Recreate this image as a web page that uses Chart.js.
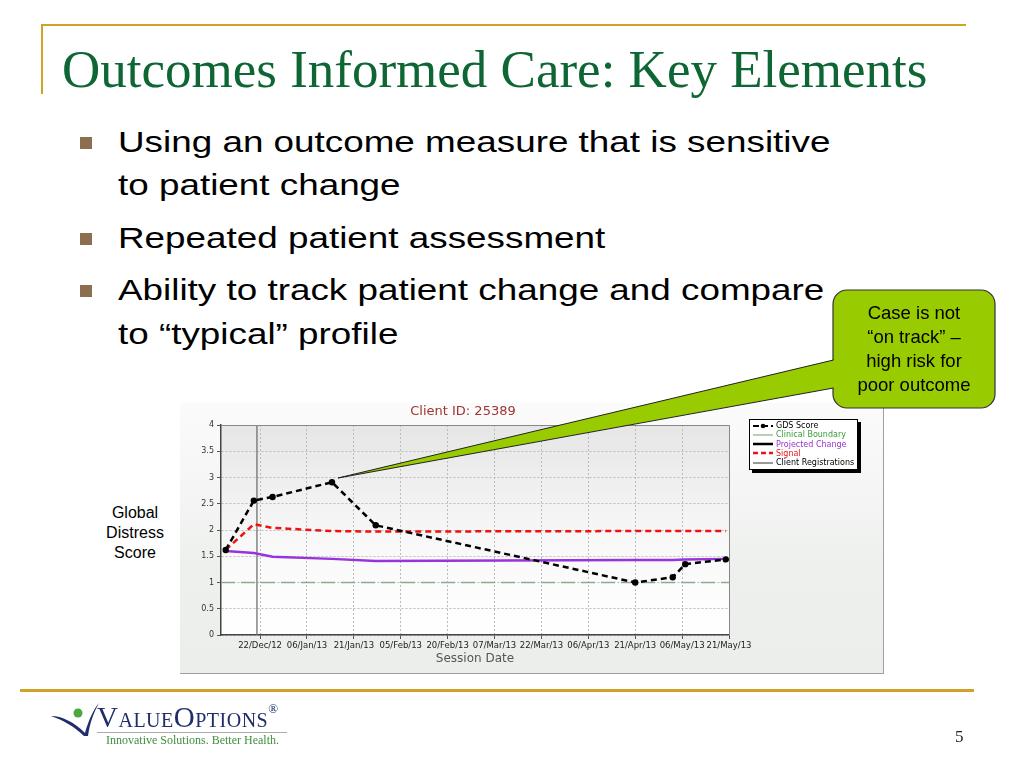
<!DOCTYPE html>
<html>
<head>
<meta charset="utf-8">
<script src="https://cdn.jsdelivr.net/npm/chart.js@4.4.1/dist/chart.umd.min.js"></script>
<style>
  body { margin: 0; background: #fff; }
  #slide { position: relative; width: 1024px; height: 768px; overflow: hidden; font-family: "Liberation Sans", Arial, sans-serif; }
  .abs { position: absolute; }
  .gold { background: #d1a22a; }
  #title { left: 62px; top: 43px; font-family: "Liberation Serif", serif; font-size: 53px; color: #0d6634; white-space: nowrap; line-height: 53px; }
  .bl { left: 118px; font-size: 29px; line-height: 29px; color: #000; white-space: nowrap; transform: scaleX(1.27); transform-origin: 0 0; }
  .sq { left: 80px; width: 12px; height: 12px; background: #8b6f4e; }
  #gds { left: 95px; top: 503px; width: 80px; text-align: center; font-size: 16px; line-height: 20px; }
  #chartBox { left: 180px; top: 403px; width: 703px; height: 270px; background: linear-gradient(#fbfbfb, #eef0ee 60%, #eceeec); border-right: 1px solid #a0a0a0; border-bottom: 1px solid #a0a0a0; }
  #ctitle { left: 180px; top: 403px; width: 566px; text-align: center; font-family: "DejaVu Sans", sans-serif; font-size: 13px; color: #a03434; }
  #legend { left: 749px; top: 419px; width: 107px; height: 48px; background: #fff; border: 1px solid #000; box-shadow: 3px 3px 0 #000; font-family: "DejaVu Sans", sans-serif; font-size: 8px; line-height: 9.3px; padding-top: 1px; }
  #legend div { white-space: nowrap; }
  #legend svg { vertical-align: middle; margin: 0 3px 0 3px; }
  #callText { left: 833px; top: 301px; width: 162px; text-align: center; font-size: 18.5px; line-height: 24px; color: #000; }
  #page { left: 955px; top: 727px; font-family: "Liberation Serif", serif; font-size: 17px; color: #222; }
  #logoName { left: 97px; top: 701px; font-family: "Liberation Serif", serif; font-size: 29px; font-variant: small-caps; color: #1f2e6a; letter-spacing: 0.5px; }
  #logoTag { left: 106px; top: 733px; font-family: "Liberation Serif", serif; font-size: 12px; color: #3f8f3f; }
</style>
</head>
<body>
<div id="slide">
  <div class="abs gold" style="left:42px;top:24px;width:924px;height:2px;"></div>
  <div class="abs gold" style="left:41px;top:24px;width:2px;height:70px;"></div>
  <div class="abs gold" style="left:20px;top:689px;width:954px;height:3px;"></div>

  <div id="title" class="abs">Outcomes Informed Care: Key Elements</div>

  <div class="abs sq" style="top:137px;"></div>
  <div class="abs bl" style="top:128px;">Using an outcome measure that is sensitive</div>
  <div class="abs bl" style="top:171px;">to patient change</div>
  <div class="abs sq" style="top:233px;"></div>
  <div class="abs bl" style="top:224px;">Repeated patient assessment</div>
  <div class="abs sq" style="top:285px;"></div>
  <div class="abs bl" style="top:276px;">Ability to track patient change and compare</div>
  <div class="abs bl" style="top:320px;">to “typical” profile</div>

  <div id="gds" class="abs">Global<br>Distress<br>Score</div>

  <div id="chartBox" class="abs">
    <canvas id="gdsChart" width="703" height="270"></canvas>
  </div>
  <div id="ctitle" class="abs">Client ID: 25389</div>

  <div id="legend" class="abs">
    <div><svg width="20" height="6"><line x1="0" y1="3" x2="20" y2="3" stroke="#000" stroke-width="2" stroke-dasharray="6,3"/><circle cx="10" cy="3" r="2.3" fill="#000"/></svg><span style="color:#000">GDS Score</span></div>
    <div><svg width="20" height="6"><line x1="0" y1="3" x2="20" y2="3" stroke="#7a9a7a" stroke-width="1"/></svg><span style="color:#3a9a3a">Clinical Boundary</span></div>
    <div><svg width="20" height="6"><line x1="0" y1="3" x2="20" y2="3" stroke="#000" stroke-width="2.5"/></svg><span style="color:#9933cc">Projected Change</span></div>
    <div><svg width="20" height="6"><line x1="0" y1="3" x2="20" y2="3" stroke="#ee1111" stroke-width="2.5" stroke-dasharray="5,3"/></svg><span style="color:#ee1111">Signal</span></div>
    <div><svg width="20" height="6"><line x1="0" y1="3" x2="20" y2="3" stroke="#777" stroke-width="1.5"/></svg><span style="color:#000">Client Registrations</span></div>
  </div>

  <svg class="abs" style="left:0;top:0;" width="1024" height="768">
    <rect x="833" y="290" width="162" height="118" rx="14" ry="14" fill="#99cc00" stroke="#333" stroke-width="1.2"/>
    <polygon points="338,478 833,360 842,360 842,388 833,388" fill="#99cc00"/>
    <line x1="338" y1="478" x2="833.5" y2="360" stroke="#222" stroke-width="1"/>
    <line x1="338" y1="478" x2="833.5" y2="388" stroke="#222" stroke-width="1"/>
  </svg>
  <div id="callText" class="abs">Case is not<br>“on track” –<br>high risk for<br>poor outcome</div>

  <svg class="abs" style="left:48px;top:700px;" width="56" height="40">
    <path d="M3,16 C14,16 26,22 37,33 C40,22 45,10 51,3 C46,12 42,22 40,36 L36,36 C27,27 15,20 3,16 Z" fill="#1f2e6a"/>
    <circle cx="30" cy="13" r="4.5" fill="#4aa83a"/>
  </svg>
  <div id="logoName" class="abs">ValueOptions<sup style="font-size:13px;vertical-align:14px;">®</sup></div>
  <div class="abs" style="left:97px;top:732px;width:190px;height:1px;background:#aaa;"></div>
  <div id="logoTag" class="abs">Innovative Solutions. Better Health.</div>

  <div id="page" class="abs">5</div>
</div>

<script>
// session dates and values
const sessionDates = ['2012-12-11', '2012-12-20', '2012-12-26', '2013-01-14', '2013-01-28',
                      '2013-04-21', '2013-05-03', '2013-05-07', '2013-05-20'];
const gdsScore        = [1.62, 2.56, 2.63, 2.91, 2.09, 1.00, 1.10, 1.35, 1.44];
const signalScore     = [1.62, 2.11, 2.04, 1.98, 1.97, 1.98, 1.98, 1.98, 1.98];
const projectedChange = [1.60, 1.56, 1.49, 1.45, 1.41, 1.43, 1.43, 1.44, 1.45];
const clinicalBoundary = 1.0;
const registrationDate = '2012-12-21';

const tickDates  = ['2012-12-22', '2013-01-06', '2013-01-21', '2013-02-05', '2013-02-20', '2013-03-07',
                    '2013-03-22', '2013-04-06', '2013-04-21', '2013-05-06', '2013-05-21'];
const tickLabels = ['22/Dec/12', '06/Jan/13', '21/Jan/13', '05/Feb/13', '20/Feb/13', '07/Mar/13',
                    '22/Mar/13', '06/Apr/13', '21/Apr/13', '06/May/13', '21/May/13'];

const day0 = Date.parse('2012-12-22');
function toDay(s) { return (Date.parse(s) - day0) / 86400000; }

const xMin = -12.5;
const xMax = toDay('2013-05-21');
const tickDays = tickDates.map(toDay);

const plotBackground = {
    id: 'plotBackground',
    beforeDraw(chart) {
        const {ctx, chartArea: a} = chart;
        const g = ctx.createLinearGradient(0, a.top, 0, a.bottom);
        g.addColorStop(0, '#e6e6e6');
        g.addColorStop(0.55, '#f8f8f8');
        g.addColorStop(1, '#ffffff');
        ctx.save();
        ctx.fillStyle = g;
        ctx.fillRect(a.left, a.top, a.right - a.left, a.bottom - a.top);
        ctx.restore();
    },
    afterDraw(chart) {
        const {ctx, chartArea: a} = chart;
        ctx.save();
        ctx.strokeStyle = '#888';
        ctx.lineWidth = 1;
        ctx.beginPath();
        ctx.moveTo(a.left, a.top + 0.5);
        ctx.lineTo(a.right + 0.5, a.top + 0.5);
        ctx.lineTo(a.right + 0.5, a.bottom);
        ctx.stroke();
        ctx.restore();
    }
};

new Chart(document.getElementById('gdsChart'), {
    type: 'line',
    data: {
        datasets: [{
            label: 'GDS Score',
            data: sessionDates.map((d, i) => ({x: toDay(d), y: gdsScore[i]})),
            borderColor: '#000',
            backgroundColor: '#000',
            borderWidth: 2.5,
            borderDash: [6, 4],
            pointRadius: 3.2,
            pointBorderWidth: 0
        }, {
            label: 'Signal',
            data: sessionDates.map((d, i) => ({x: toDay(d), y: signalScore[i]})),
            borderColor: '#ee1111',
            borderWidth: 2.5,
            borderDash: [6, 4],
            pointRadius: 0
        }, {
            label: 'Projected Change',
            data: sessionDates.map((d, i) => ({x: toDay(d), y: projectedChange[i]})),
            borderColor: '#9933dd',
            borderWidth: 2.5,
            pointRadius: 0
        }, {
            label: 'Clinical Boundary',
            data: [{x: xMin, y: clinicalBoundary}, {x: xMax, y: clinicalBoundary}],
            borderColor: '#8faa8f',
            borderWidth: 1.5,
            borderDash: [14, 6],
            pointRadius: 0
        }, {
            label: 'Client Registrations',
            data: [{x: toDay(registrationDate), y: 0}, {x: toDay(registrationDate), y: 4}],
            borderColor: '#666',
            borderWidth: 1.2,
            pointRadius: 0
        }]
    },
    options: {
        responsive: false,
        animation: false,
        layout: { padding: { left: 0, right: 154, top: 22, bottom: 0 } },
        scales: {
            x: {
                type: 'linear',
                min: xMin,
                max: xMax,
                afterBuildTicks: function(scale) {
                    scale.ticks = tickDays.map(v => ({value: v}));
                },
                afterFit: function(scale) { scale.height = 38; },
                ticks: {
                    autoSkip: false,
                    maxRotation: 0,
                    padding: 2,
                    color: '#222',
                    font: { family: "'DejaVu Sans', sans-serif", size: 8.5 },
                    callback: function(value) {
                        const i = tickDays.indexOf(value);
                        return i >= 0 ? tickLabels[i] : '';
                    }
                },
                grid: { color: '#bbbbbb', tickLength: 4, tickColor: '#555' },
                border: { color: '#444', width: 1.5, dash: [2, 2] },
                title: {
                    display: true,
                    text: 'Session Date',
                    color: '#555',
                    padding: { top: 0, bottom: 7 },
                    font: { family: "'DejaVu Sans', sans-serif", size: 12 }
                }
            },
            y: {
                min: 0,
                max: 4,
                afterFit: function(scale) { scale.width = 41; },
                ticks: {
                    stepSize: 0.5,
                    padding: 3,
                    color: '#333',
                    font: { family: "'DejaVu Sans', sans-serif", size: 8 },
                    callback: function(value) { return String(value); }
                },
                grid: { color: '#bbbbbb', tickLength: 4, tickColor: '#555' },
                border: { color: '#444', width: 1.5, dash: [2, 2] }
            }
        },
        plugins: {
            legend: { display: false },
            title: { display: false },
            tooltip: { enabled: false }
        }
    },
    plugins: [plotBackground]
});
</script>
</body>
</html>
